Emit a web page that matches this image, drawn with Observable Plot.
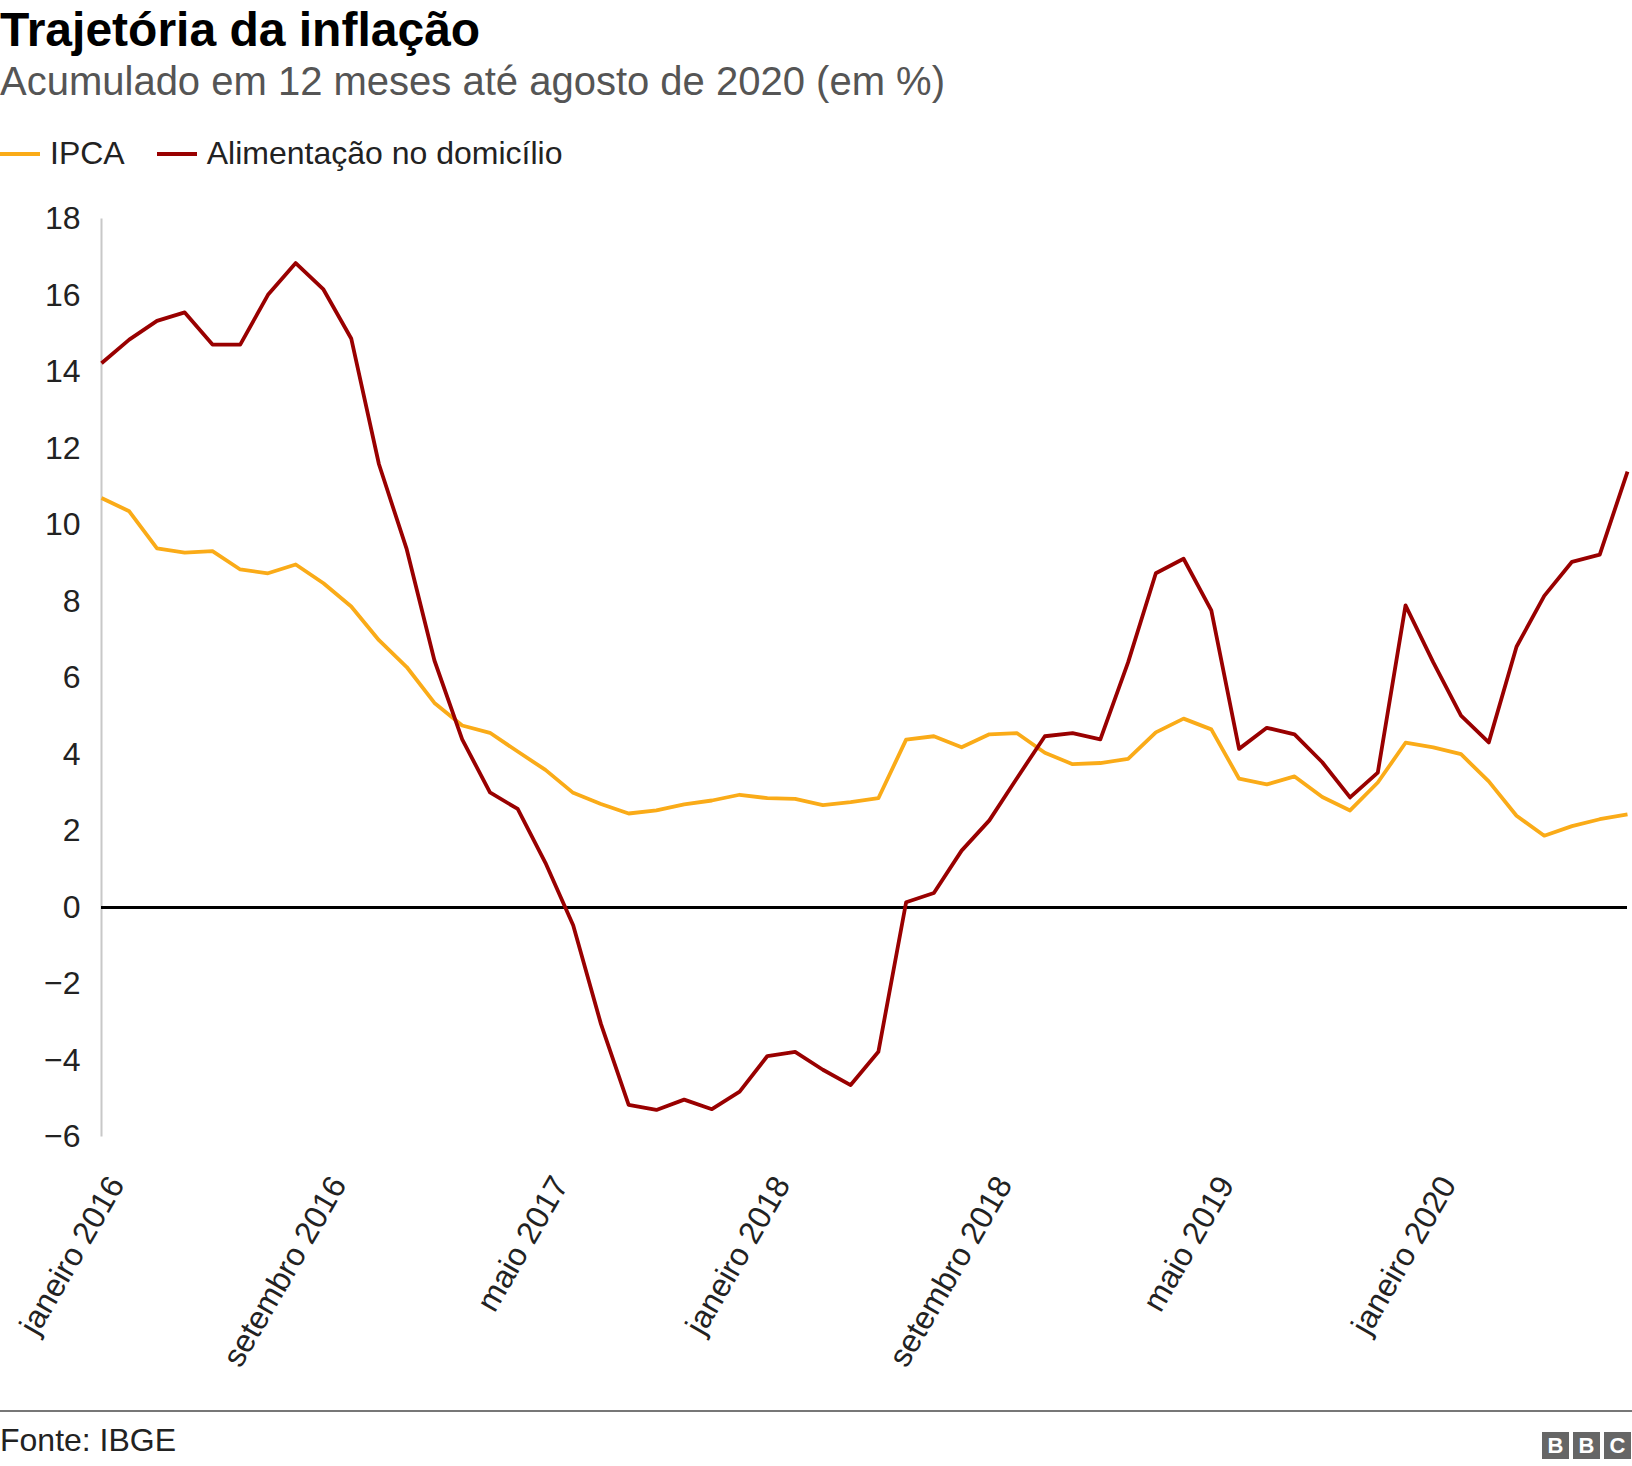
<!DOCTYPE html>
<html>
<head>
<meta charset="utf-8">
<script src="https://cdn.jsdelivr.net/npm/d3@7"></script>
<script src="https://cdn.jsdelivr.net/npm/@observablehq/plot@0.6"></script>
<style>
  html, body { margin: 0; padding: 0; background: #fff; }
  body { width: 1632px; height: 1466px; position: relative; overflow: hidden;
         font-family: "Liberation Sans", Arial, Helvetica, sans-serif; color: #222; }
  .abs { position: absolute; white-space: nowrap; }
  #title { left: 0; top: 6px; font-size: 48px; line-height: 48px; font-weight: bold; color: #000; }
  #subtitle { left: 0; top: 61px; font-size: 40px; line-height: 40px; color: #555; }
  #legend { left: 0; top: 137px; font-size: 32px; line-height: 32px; color: #222; }
  .sw { display: inline-block; width: 40px; height: 4px; vertical-align: middle; margin-right: 10px; position: relative; top: -2px; }
  .item { display: inline-block; margin-right: 32px; }
  #chart { left: 0; top: 190px; }
  #rule { left: 0; top: 1410px; width: 1632px; height: 2px; background: #777; }
  #source { left: 0; top: 1424px; font-size: 32px; line-height: 32px; color: #222; }
  #bbc { right: 1px; top: 1432px; display: flex; gap: 4px; }
  #bbc span { width: 27px; height: 27px; background: #666; color: #fff; font-weight: bold;
              font-size: 22px; line-height: 27px; text-align: center; display: inline-block; }
</style>
</head>
<body>
<div id="title" class="abs">Trajetória da inflação</div>
<div id="subtitle" class="abs">Acumulado em 12 meses até agosto de 2020 (em %)</div>
<div id="legend" class="abs"></div>
<div id="chart" class="abs"></div>
<div id="rule" class="abs"></div>
<div id="source" class="abs">Fonte: IBGE</div>
<div id="bbc" class="abs"><span>B</span><span>B</span><span>C</span></div>
<script>
const monthNames = ["janeiro","fevereiro","março","abril","maio","junho","julho","agosto","setembro","outubro","novembro","dezembro"];
const years = [2016, 2017, 2018, 2019, 2020];
const lastMonth2020 = 8; // até agosto de 2020

const seriesNames = ["IPCA", "Alimentação no domicílio"];
const seriesColors = ["#FAAB18", "#990000"];

const ipca = [
  10.71,10.36,9.39,9.28,9.32,8.84,8.74,8.97,8.48,7.87,6.99,6.29,
  5.35,4.76,4.57,4.08,3.60,3.00,2.71,2.46,2.54,2.70,2.80,2.95,
  2.86,2.84,2.68,2.76,2.86,4.39,4.48,4.19,4.53,4.56,4.05,3.75,
  3.78,3.89,4.58,4.94,4.66,3.37,3.22,3.43,2.89,2.54,3.27,4.31,
  4.19,4.01,3.30,2.40,1.88,2.13,2.31,2.44
];
const alimentacao = [
  14.23,14.85,15.34,15.56,14.72,14.72,16.02,16.85,16.16,14.88,11.59,9.37,
  6.46,4.40,3.01,2.58,1.17,-0.46,-3.04,-5.16,-5.29,-5.02,-5.27,-4.81,
  -3.88,-3.77,-4.24,-4.64,-3.77,0.14,0.38,1.49,2.28,3.39,4.48,4.56,
  4.40,6.41,8.74,9.12,7.77,4.15,4.70,4.53,3.80,2.88,3.53,7.90,
  6.41,5.02,4.32,6.82,8.15,9.04,9.23,11.40
];

const xTickLabels = ["janeiro 2016","setembro 2016","maio 2017","janeiro 2018","setembro 2018","maio 2019","janeiro 2020"];
const yTicks = [-6,-4,-2,0,2,4,6,8,10,12,14,16,18];

const periods = [];
for (const y of years) {
  const n = y === 2020 ? lastMonth2020 : 12;
  for (let m = 0; m < n; m++) periods.push(monthNames[m] + " " + y);
}

const rows = [];
periods.forEach((p, i) => {
  rows.push({period: p, series: seriesNames[0], value: ipca[i]});
});
periods.forEach((p, i) => {
  rows.push({period: p, series: seriesNames[1], value: alimentacao[i]});
});

// legend
const legend = document.getElementById("legend");
seriesNames.forEach((s, i) => {
  const it = document.createElement("span");
  it.className = "item";
  it.innerHTML = `<span class="sw" style="background:${seriesColors[i]}"></span>${s}`;
  legend.appendChild(it);
});

const fmt = d => d < 0 ? "\u2212" + Math.abs(d) : String(d);

const chart = Plot.plot({
  width: 1632,
  height: 1200,
  marginTop: 28.6,
  marginBottom: 253.4,
  marginLeft: 101,
  marginRight: 5,
  style: {fontFamily: '"Liberation Sans", Arial, Helvetica, sans-serif', color: "#222", background: "transparent"},
  x: {type: "point", domain: periods, padding: 0},
  y: {domain: [-6, 18]},
  color: {domain: seriesNames, range: seriesColors},
  marks: [
    Plot.ruleX([periods[0]], {stroke: "#c8c8c8", strokeWidth: 2}),
    Plot.axisY({ticks: yTicks, tickSize: 0, tickPadding: 21, fontSize: 32, tickFormat: fmt, label: null, fill: "#222"}),
    Plot.axisX({ticks: xTickLabels, tickSize: 0, tickPadding: 0, tickRotate: -60, fontSize: 32,
                textAnchor: "end", lineAnchor: "middle", dx: 15, dy: 42, label: null, fill: "#222"}),
    Plot.ruleY([0], {stroke: "#000", strokeWidth: 3}),
    Plot.line(rows, {x: "period", y: "value", stroke: "series", z: "series", strokeWidth: 3.8, strokeLinejoin: "round", strokeLinecap: "butt"})
  ]
});
document.getElementById("chart").appendChild(chart);
</script>
</body>
</html>
